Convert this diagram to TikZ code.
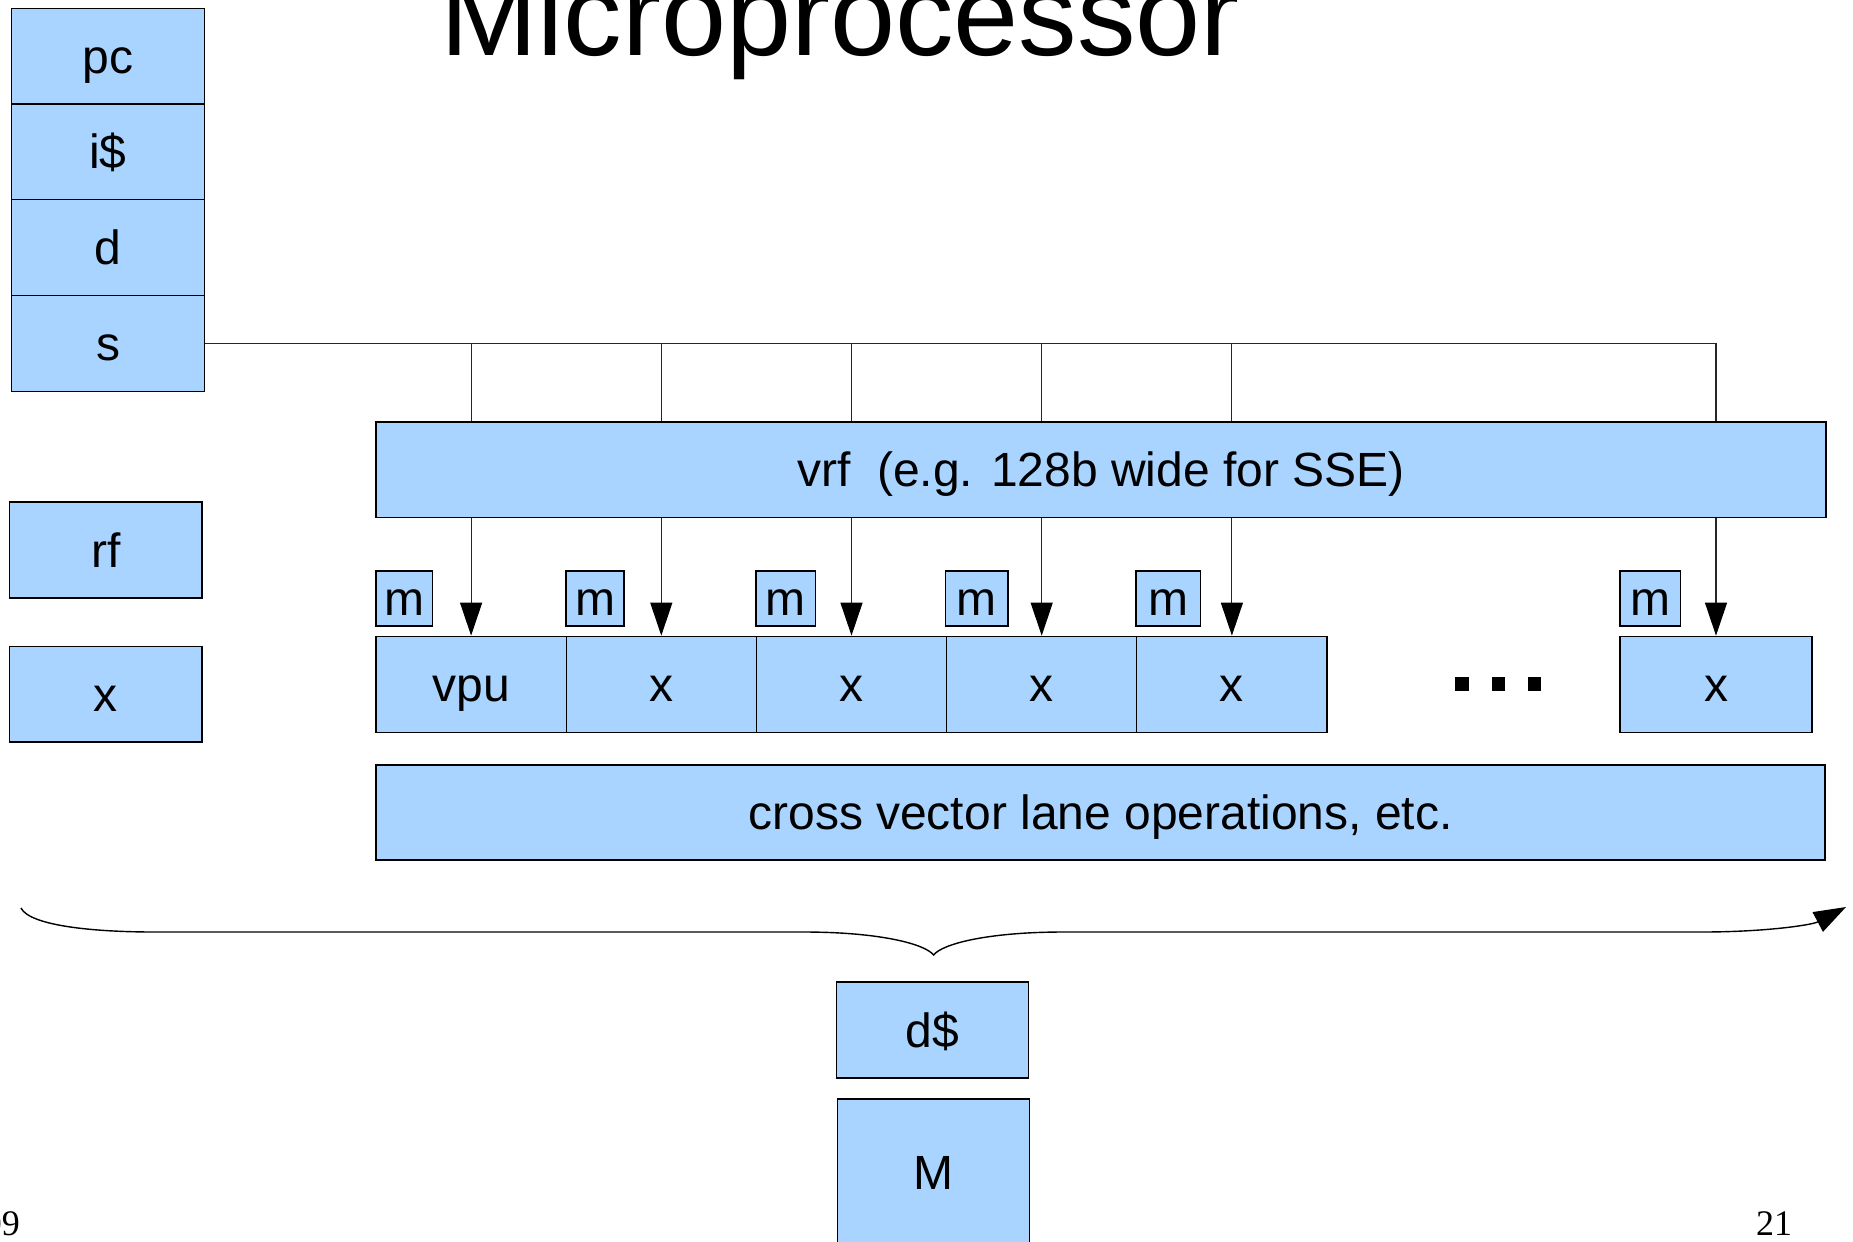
\documentclass[tikz,border=0pt]{standalone}
\usepackage{fontspec}
\setmainfont{Liberation Sans}
\newfontfamily\pgserif{Liberation Serif}
\usetikzlibrary{arrows.meta}
\definecolor{boxblue}{HTML}{A8D4FF}
\tikzset{
  blk/.style={draw=black, line width=1.2pt, fill=boxblue, inner sep=0pt,
    font=\fontsize{48}{56}\selectfont, text height=41pt, text depth=7pt,
    minimum width=#1},
  blk/.default=192pt,
  conn/.style={line width=1.1pt, draw=black!85},
  arr/.style={conn, -{Triangle[width=22pt,length=33pt,fill=black,color=black]}},
  dotsq/.style={fill=black, draw=none, minimum size=13.5pt, inner sep=0pt},
}
\begin{document}
\begin{tikzpicture}[x=1pt,y=-1pt]
\useasboundingbox (0,0) rectangle (1853,1242);
% title
\node[anchor=base, font=\fontsize{117}{130}\selectfont, inner sep=0pt] (title) at (840,55.5) {Microprocessor};
% left column
\node[blk=192.6pt, minimum height=95.7pt] (pc) at (108,56.2) {pc};
\node[blk=192.6pt, minimum height=95.7pt] (ic) at (108,151.9) {i\$};
\node[blk=192.6pt, minimum height=95.7pt] (d) at (108,247.6) {d};
\node[blk=192.6pt, minimum height=95.7pt] (s) at (108,343.3) {s};
\node[blk=192.5pt, minimum height=96pt] (rf) at (105.8,550) {rf};
\node[blk=192.5pt, minimum height=95.5pt] (xs) at (105.8,694.2) {x};
% vrf
\node[blk=1450pt, minimum height=95.6pt] (vrf) at (1101,469.8) {vrf\ \ (e.g. 128b wide for SSE)};
% lanes
\node[blk=190.2pt, minimum height=96.5pt] (l1) at (471.1,684.5) {vpu};
\node[blk=190.2pt, minimum height=96.5pt] (l2) at (661.3,684.5) {x};
\node[blk=190.2pt, minimum height=96.5pt] (l3) at (851.5,684.5) {x};
\node[blk=190.2pt, minimum height=96.5pt] (l4) at (1041.7,684.5) {x};
\node[blk=190.2pt, minimum height=96.5pt] (l5) at (1231.9,684.5) {x};
\node[blk=192pt, minimum height=96.5pt] (l6) at (1716,684.5) {x};
% m boxes
\node[blk=56.5pt, minimum height=55pt] (m1) at (404.2,598.5) {m};
\node[blk=58pt, minimum height=55pt] (m2) at (595,598.5) {m};
\node[blk=59.5pt, minimum height=55pt] (m3) at (785.7,598.5) {m};
\node[blk=62.5pt, minimum height=55pt] (m4) at (976.7,598.5) {m};
\node[blk=64.7pt, minimum height=55pt] (m5) at (1168.3,598.5) {m};
\node[blk=60.5pt, minimum height=55pt] (m6) at (1650.2,598.5) {m};
% dots
\node[dotsq] (dot1) at (1462,684) {};
\node[dotsq] (dot2) at (1498.5,684) {};
\node[dotsq] (dot3) at (1534.5,684) {};
% cross lane
\node[blk=1449pt, minimum height=95pt] (cross) at (1100.5,812.5) {cross vector lane operations, etc.};
% memory
\node[blk=192pt, minimum height=96pt] (dc) at (932.5,1030) {d\$};
\node[blk=192pt, minimum height=146pt] (mem) at (933.5,1172) {M};
% bus
\coordinate (busend) at (1716,343.3);
\draw[conn, line width=1.4pt] (s.east) -- (busend);
\foreach \l in {l1,l2,l3,l4,l5,l6}{
  \draw[conn] (\l |- s.east) -- (\l |- vrf.north);
  \draw[arr] (\l |- vrf.south) -- (\l.north);
}
% brace
\coordinate (bl) at (21,908);
\coordinate (bm) at (933.6,955);
\coordinate (br) at (1846,907);
\draw[line width=1.4pt, -{Triangle[width=22pt,length=32pt]}]
  (bl) .. controls (30,926) and (95,932) .. (154,932) -- (803,932)
  .. controls (880,932) and (925,944) .. (bm)
  .. controls (942,944) and (987,932) .. (1064,932) -- (1702,932)
  .. controls (1765,932) and (1812,925) .. (br);
% page numbers
\node[anchor=base east, inner sep=0pt, font=\pgserif\fontsize{36}{40}\selectfont] (pgl) at (20,1235) {09};
\node[anchor=base west, inner sep=0pt, font=\pgserif\fontsize{36}{40}\selectfont] (pgr) at (1756,1235) {21};
\end{tikzpicture}
\end{document}
